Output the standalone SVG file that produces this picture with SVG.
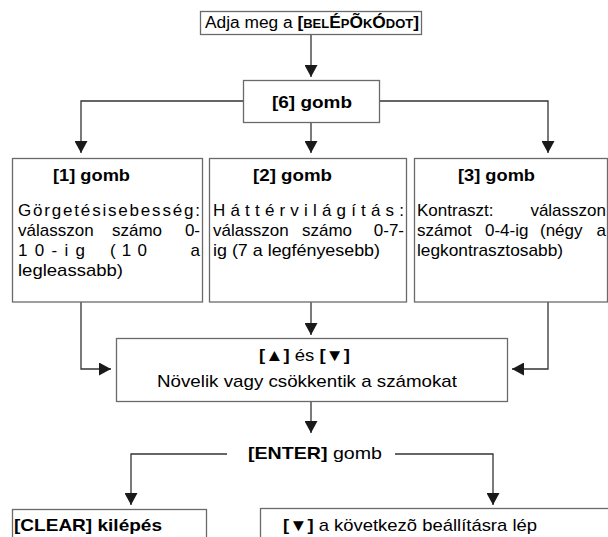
<svg xmlns="http://www.w3.org/2000/svg" width="608" height="537" viewBox="0 0 608 537">
<style>
text{font-family:"Liberation Sans",Arial,sans-serif;font-size:17px;fill:#000}
.b{font-weight:bold}
.box{fill:#fff;stroke:#6a6a6a;stroke-width:1.3}
.c{fill:none;stroke:#333;stroke-width:1.3}
</style>
<defs>
<marker id="ah" markerUnits="userSpaceOnUse" markerWidth="13" markerHeight="13" refX="12" refY="6.5" orient="auto" viewBox="0 0 13 13">
<path d="M0,0 L12,6.5 L0,13 z" fill="#1a1a1a"/>
</marker>
</defs>
<g id="connectors">
<path class="c" d="M311,34 V77" marker-end="url(#ah)"/>
<path class="c" d="M243,101 H81 V153" marker-end="url(#ah)"/>
<path class="c" d="M379,101 H548 V153" marker-end="url(#ah)"/>
<path class="c" d="M311,123 V153" marker-end="url(#ah)"/>
<path class="c" d="M81,302 V369 H111" marker-end="url(#ah)"/>
<path class="c" d="M548,302 V369 H512" marker-end="url(#ah)"/>
<path class="c" d="M311,302 V335" marker-end="url(#ah)"/>
<path class="c" d="M311,401 V433" marker-end="url(#ah)"/>
<path class="c" d="M227,454 H131 V505" marker-end="url(#ah)"/>
<path class="c" d="M395,454 H493 V505" marker-end="url(#ah)"/>
</g>
<g id="start">
<rect class="box" x="200.5" y="11.5" width="221" height="23"/>
<text x="205" y="28" textLength="214" lengthAdjust="spacingAndGlyphs" style="font-size:16px">Adja meg a <tspan class="b">[</tspan><tspan class="b" style="font-size:12px">BEL</tspan><tspan class="b">É</tspan><tspan class="b" style="font-size:12px">P</tspan><tspan class="b">Õ</tspan><tspan class="b" style="font-size:12px">K</tspan><tspan class="b">Ó</tspan><tspan class="b" style="font-size:12px">DOT</tspan><tspan class="b">]</tspan></text>
</g>
<g id="key6">
<rect class="box" x="243.5" y="80.5" width="136" height="42"/>
<text class="b" x="272" y="108" textLength="80" lengthAdjust="spacingAndGlyphs">[6] gomb</text>
</g>
<g id="key1">
<rect class="box" x="12.5" y="158.5" width="190" height="143.5"/>
<text class="b" x="53" y="181" textLength="77" lengthAdjust="spacingAndGlyphs">[1] gomb</text>
<text x="18" y="216" textLength="182" lengthAdjust="spacing">Görgetésisebesség:</text>
<text y="236"><tspan x="18">válasszon</tspan> <tspan x="112">számo</tspan> <tspan x="200" text-anchor="end">0-</tspan></text>
<text y="256"><tspan x="18" textLength="67" lengthAdjust="spacing">10-ig</tspan> <tspan x="110" textLength="37" lengthAdjust="spacing">(10</tspan> <tspan x="200" text-anchor="end">a</tspan></text>
<text x="18" y="276" textLength="105" lengthAdjust="spacingAndGlyphs">legleassabb)</text>
</g>
<g id="key2">
<rect class="box" x="209.5" y="158.5" width="197" height="143.5"/>
<text class="b" x="253" y="181" textLength="79" lengthAdjust="spacingAndGlyphs">[2] gomb</text>
<text x="213" y="216" textLength="191" lengthAdjust="spacing">Háttérvilágítás:</text>
<text y="236"><tspan x="213">válasszon</tspan> <tspan x="302">számo</tspan> <tspan x="404" text-anchor="end">0-7-</tspan></text>
<text x="213" y="256" textLength="167" lengthAdjust="spacingAndGlyphs">ig (7 a legfényesebb)</text>
</g>
<g id="key3">
<rect class="box" x="414.5" y="158.5" width="193" height="143.5"/>
<text class="b" x="458" y="181" textLength="77" lengthAdjust="spacingAndGlyphs">[3] gomb</text>
<text y="216"><tspan x="417">Kontraszt:</tspan> <tspan x="606" text-anchor="end">válasszon</tspan></text>
<text y="236"><tspan x="417">számot</tspan> <tspan x="485">0-4-ig</tspan> <tspan x="540">(négy</tspan> <tspan x="606" text-anchor="end">a</tspan></text>
<text x="417" y="256" textLength="146" lengthAdjust="spacingAndGlyphs">legkontrasztosabb)</text>
</g>
<g id="arrows">
<rect class="box" x="116.5" y="338.5" width="391" height="63"/>
<text x="259" y="361" textLength="91" lengthAdjust="spacingAndGlyphs"><tspan class="b">[▲]</tspan> és <tspan class="b">[▼]</tspan></text>
<text x="157" y="387" textLength="300" lengthAdjust="spacingAndGlyphs">Növelik vagy csökkentik a számokat</text>
</g>
<g id="enter">
<text x="248" y="459" textLength="134" lengthAdjust="spacingAndGlyphs"><tspan class="b">[ENTER]</tspan> gomb</text>
</g>
<g id="clear">
<rect class="box" x="12.5" y="509.5" width="194" height="40"/>
<text class="b" x="14" y="531" textLength="148" lengthAdjust="spacingAndGlyphs">[CLEAR] kilépés</text>
</g>
<g id="next">
<rect class="box" x="260.5" y="508.5" width="350" height="40"/>
<text x="283" y="531" textLength="254" lengthAdjust="spacingAndGlyphs"><tspan class="b">[▼]</tspan> a következõ beállításra lép</text>
</g>
</svg>
